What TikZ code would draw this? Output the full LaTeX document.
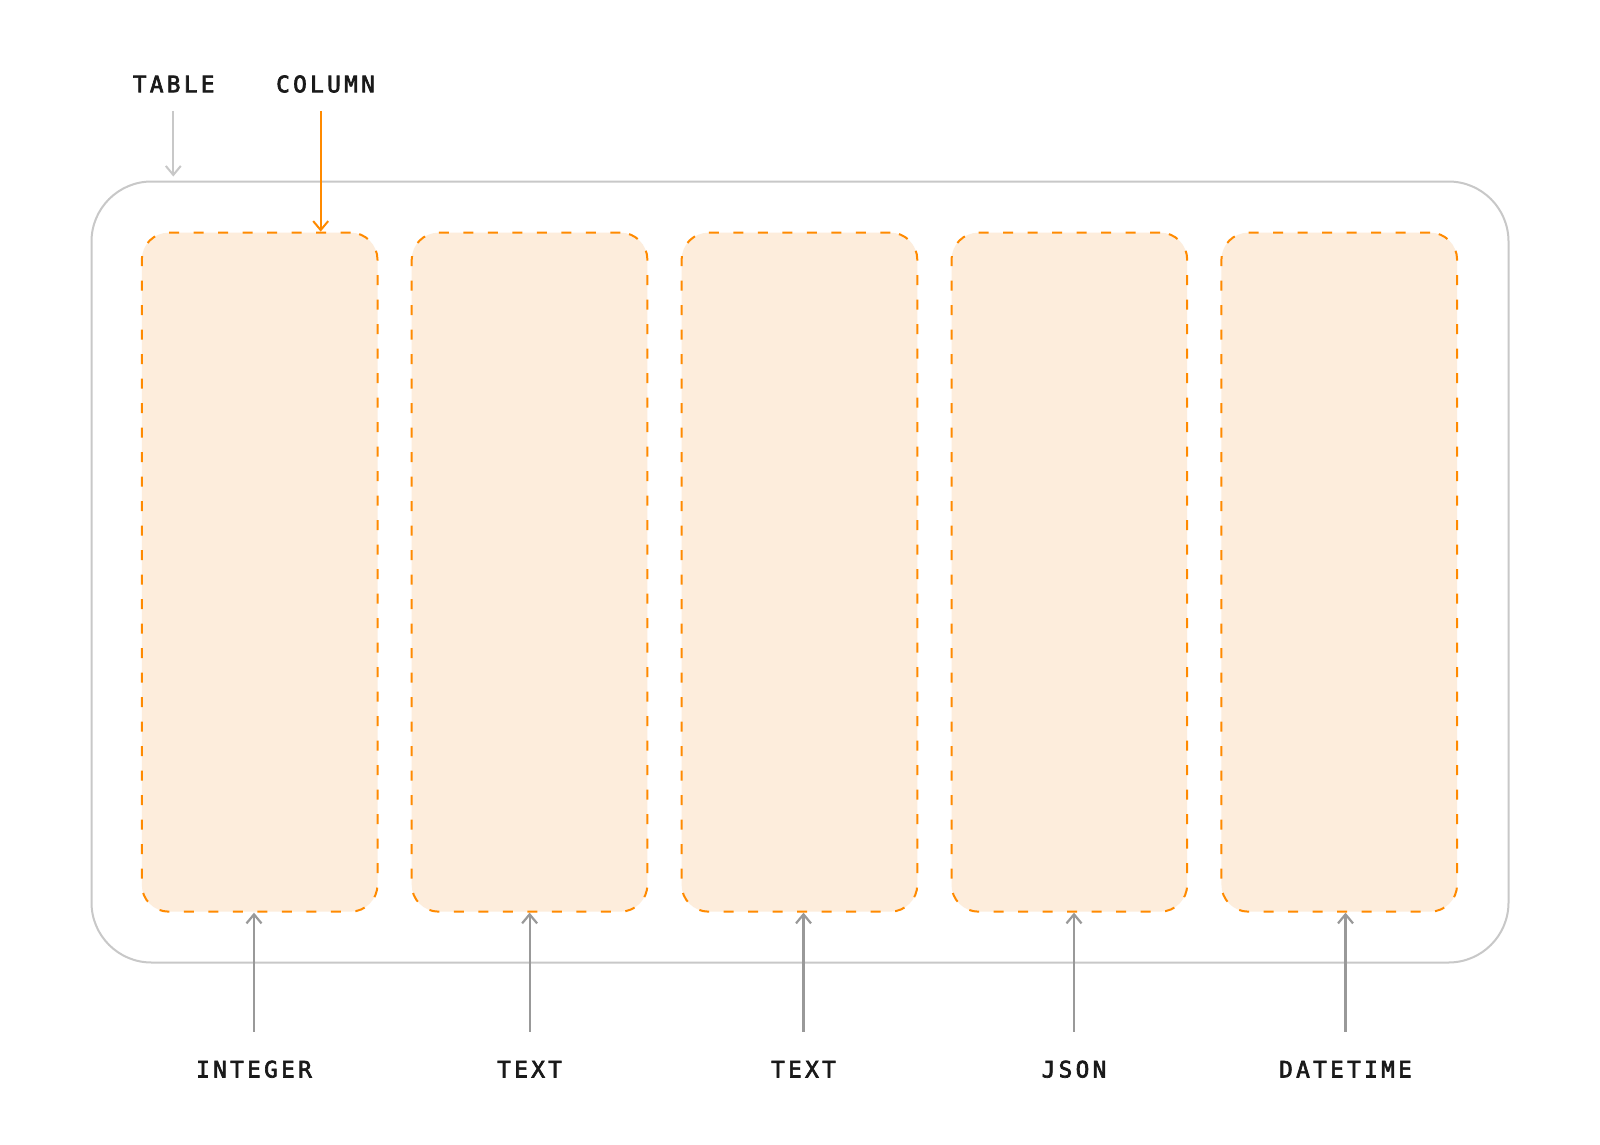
\documentclass[tikz,border=0pt]{standalone}
\usepackage{fontspec}
\usetikzlibrary{arrows.meta}
\newfontfamily\labfont[LetterSpace=15,FakeBold=3]{DejaVu Sans Mono}
\definecolor{tblgray}{HTML}{C8C8C8}
\definecolor{arrgray}{HTML}{999999}
\definecolor{colorange}{HTML}{FF8A00}
\definecolor{colfill}{HTML}{FDEDDC}
\definecolor{labtext}{HTML}{1A1A1A}
\begin{document}
\begin{tikzpicture}[x=1pt,y=-1pt,
  lab/.style={inner sep=0pt, text=labtext, font=\fontsize{22.6}{26}\labfont},
  tablebox/.style={draw=tblgray, line width=2pt, rounded corners=60pt, minimum width=1417pt, minimum height=781pt, inner sep=0pt},
  colbox/.style={draw=colorange, fill=colfill, line width=2pt, dash pattern=on 10pt off 14.5pt, rounded corners=27pt, minimum width=235.7pt, minimum height=679pt, inner sep=0pt},
  tarrow/.style={draw=tblgray, line width=2pt, -{Straight Barb[length=9pt,width=15pt]}},
  carrow/.style={draw=colorange, line width=2pt, -{Straight Barb[length=9pt,width=15pt]}},
  barrow/.style={draw=arrgray, line width=2.2pt, -{Straight Barb[length=9pt,width=15pt]}}
]
\useasboundingbox[fill=white] (0,0) rectangle (1600,1145);

\node[tablebox] (tbl) at (800,572) {};
\foreach \i/\x in {1/259.65,2/529.55,3/799.45,4/1069.35,5/1339.25}{
  \node[colbox] (c\i) at (\x,572.15) {};
}

\node[lab] (ltable) at (173.7,84) {TABLE};
\node[lab] (lcolumn) at (325.5,84) {COLUMN};

\coordinate (ts) at (173.3,111);
\coordinate (cs) at (320.7,111);
\draw[tarrow, shorten >=4pt] (ts) -- (ts |- tbl.north);
\draw[carrow] (cs) -- (cs |- c1.north);

\foreach \i/\x/\t in {1/254/INTEGER,2/529.6/TEXT,3/803.5/TEXT,4/1074/JSON,5/1345.5/DATETIME}{
  \coordinate (b\i) at (\x,1031.7);
  \draw[barrow] (b\i) -- (b\i |- c\i.south);
  \node[lab] (l\i) at (\x,1069.2) {\t};
}
\end{tikzpicture}
\end{document}
